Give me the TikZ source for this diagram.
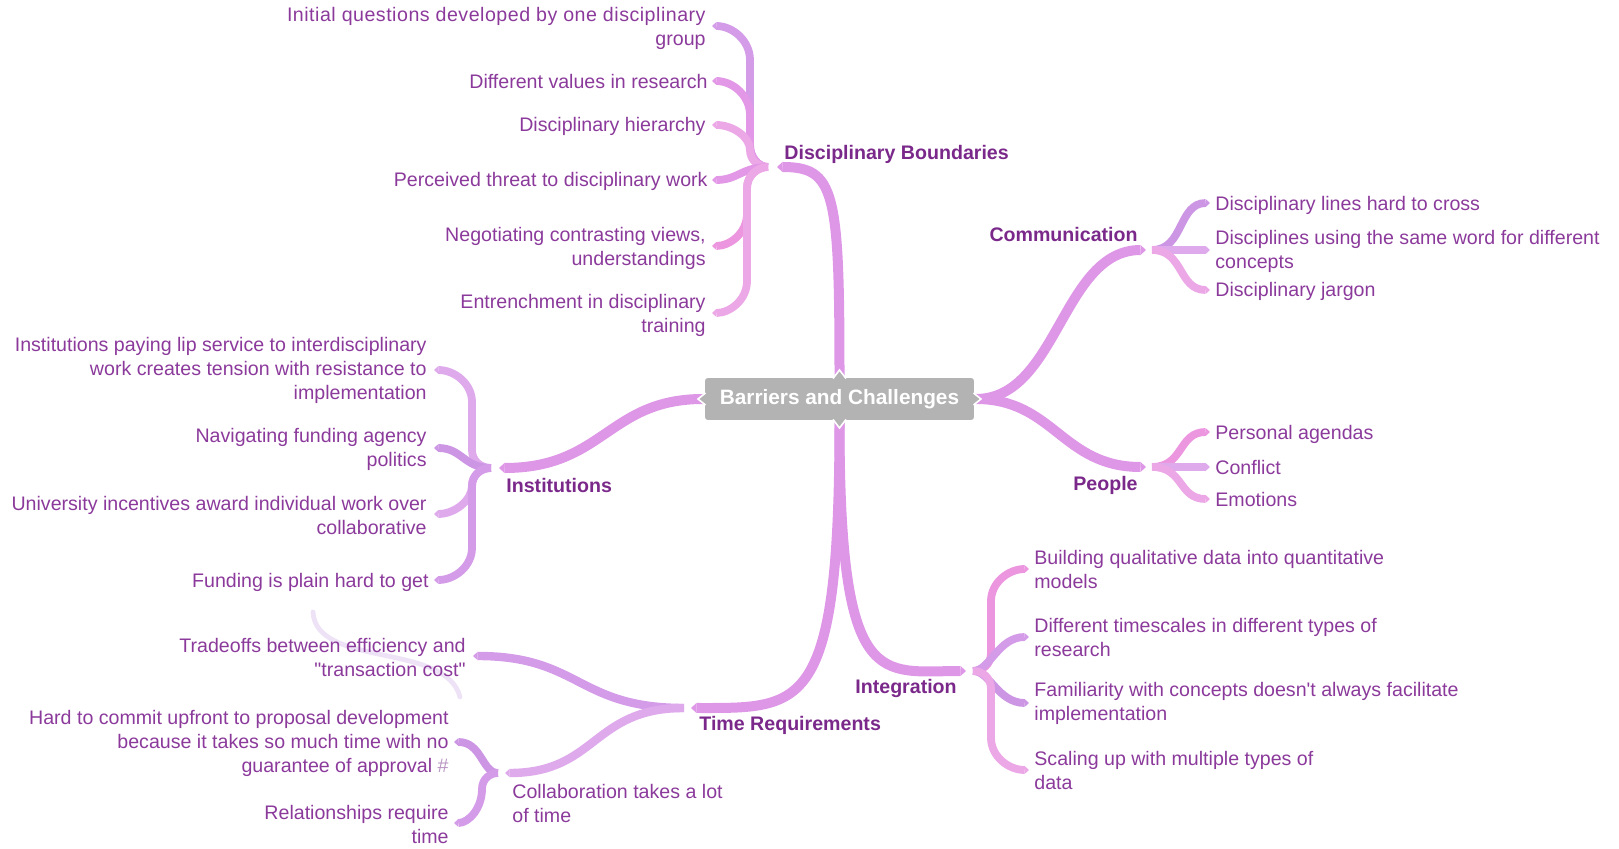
\documentclass[tikz,border=0pt]{standalone}
\usepackage{fontspec}
\setmainfont{Liberation Sans}
\usetikzlibrary{arrows.meta}

\definecolor{txt}{RGB}{139,58,155}
\definecolor{hashc}{RGB}{185,150,195}
\definecolor{head}{RGB}{122,40,138}
\definecolor{trunk}{RGB}{222,150,230}
\definecolor{lav}{RGB}{212,155,232}
\definecolor{dlav}{RGB}{205,150,228}
\definecolor{orc}{RGB}{226,152,230}
\definecolor{pnk}{RGB}{236,150,224}
\definecolor{lpk}{RGB}{236,168,230}
\definecolor{llav}{RGB}{222,170,236}
\definecolor{boxgray}{RGB}{179,179,179}
\definecolor{ghostc}{RGB}{237,226,246}

\begin{document}
\begin{tikzpicture}[x=0.5pt,y=-0.5pt,
  leaf/.style={text=txt, inner sep=0pt, font=\fontsize{9.8}{12}\selectfont},
  leafL/.style={leaf, anchor=east, align=right},
  leafR/.style={leaf, anchor=west, align=left},
  topic/.style={text=head, inner sep=0pt, font=\fontsize{9.8}{12}\selectfont\bfseries},
  pointy/.style={-{Triangle[length=0pt 0.55, width=0pt 1, line width=0pt]}},
  mainline/.style={line width=5pt, trunk, pointy},
  branchline/.style={line width=4.2pt, pointy},
  twig/.style={line width=3.9pt, pointy},
]
\useasboundingbox (0,0) rectangle (1619,849);

% ---------- central topic ----------
\node[fill=boxgray, draw=white, line width=0.8pt, rounded corners=2pt,
      minimum width=135.5pt, minimum height=22pt, inner sep=0pt]
      (bc) at (839.5,399) {};

% ---------- branch end points ----------
\coordinate (db)  at (777,167);  \coordinate (dbf)  at (768,167);
\coordinate (cm)  at (1146,250); \coordinate (cmf)  at (1152,250);
\coordinate (pe)  at (1146,467); \coordinate (pef)  at (1152,467);
\coordinate (ins) at (499,468);  \coordinate (insf) at (491,468);
\coordinate (tr)  at (691,708);  \coordinate (trf)  at (684,708);
\coordinate (ig)  at (966,671);  \coordinate (igf)  at (973,671);
\coordinate (co)  at (505,773);  \coordinate (cof)  at (498,773);

% leaf end points
\coordinate (d1) at (712,26);   \coordinate (d2) at (712,81);
\coordinate (d3) at (712,125);  \coordinate (d4) at (712,180);
\coordinate (d5) at (712,246);  \coordinate (d6) at (712,313);
\coordinate (c1) at (1210,203); \coordinate (c2) at (1210,250);
\coordinate (c3) at (1210,290);
\coordinate (p1) at (1210,432); \coordinate (p2) at (1210,467);
\coordinate (p3) at (1210,499);
\coordinate (i1) at (434,370);  \coordinate (i2) at (434,448);
\coordinate (i3) at (434,514);  \coordinate (i4) at (434,580);
\coordinate (g1) at (1029,569); \coordinate (g2) at (1029,637);
\coordinate (g3) at (1029,703); \coordinate (g4) at (1029,770);
\coordinate (t1) at (473,656);
\coordinate (h1) at (454,742);  \coordinate (h2) at (454,823);

% faint stroke left behind near the tradeoffs entry
\draw[ghostc, line width=2.4pt, line cap=round]
  (313,612) .. controls (316,668) and (446,642) .. (460,697);

% ---------- main branches ----------
\draw[mainline] (bc.north) .. controls +(0,-185) and +(58,0) .. (db);
\draw[mainline] (bc.east) .. controls +(82,0) and +(-84,0) .. (cm);
\draw[mainline] (bc.east) .. controls +(78,0) and +(-84,0) .. (pe);
\draw[mainline] (bc.west) .. controls +(-95,0) and +(105,0) .. (ins);
\draw[mainline] (bc.south) .. controls +(0,292) and +(112,0) .. (tr);
\draw[mainline] (bc.south) .. controls +(0,272) and +(-86,0) .. (ig);

% ---------- disciplinary boundaries ----------
\draw[twig, lav] (dbf) .. controls (758,167) and (750,157) .. (750,145)
                 -- (750,60) .. controls (750,41) and (733,26) .. (d1);
\draw[twig, orc] (dbf) .. controls (758,167) and (750,157) .. (750,145)
                 -- (750,115) .. controls (750,96) and (733,81) .. (d2);
\draw[twig, lpk] (dbf) .. controls (758,167) and (750,160) .. (750,150)
                 .. controls (750,137) and (733,125) .. (d3);
\draw[twig, orc] (dbf) .. controls (742,167) and (738,180) .. (d4);
\draw[twig, pnk] (dbf) .. controls (757,167) and (747,176) .. (747,188)
                 -- (747,214) .. controls (747,233) and (730,246) .. (d5);
\draw[twig, lpk] (dbf) .. controls (757,167) and (747,176) .. (747,188)
                 -- (747,281) .. controls (747,300) and (730,313) .. (d6);

% ---------- communication ----------
\draw[twig, dlav] (cmf) .. controls (1184,250) and (1178,203) .. (c1);
\draw[twig, llav] (cmf) -- (c2);
\draw[twig, lpk]  (cmf) .. controls (1184,250) and (1178,290) .. (c3);

% ---------- people ----------
\draw[twig, pnk]  (pef) .. controls (1184,467) and (1178,432) .. (p1);
\draw[twig, llav] (pef) -- (p2);
\draw[twig, lpk]  (pef) .. controls (1184,467) and (1178,499) .. (p3);

% ---------- institutions ----------
\draw[twig, llav] (insf) .. controls (481,468) and (472,461) .. (472,450)
                  -- (472,402) .. controls (472,384) and (455,370) .. (i1);
\draw[twig, dlav] (insf) .. controls (464,468) and (462,448) .. (i2);
\draw[twig, llav] (insf) .. controls (481,468) and (472,475) .. (472,486)
                  .. controls (472,500) and (455,514) .. (i3);
\draw[twig, lav]  (insf) .. controls (481,468) and (472,475) .. (472,486)
                  -- (472,548) .. controls (472,566) and (455,580) .. (i4);

% ---------- integration ----------
\draw[twig, pnk]  (igf) .. controls (983,671) and (991,664) .. (991,653)
                  -- (991,601) .. controls (991,583) and (1008,569) .. (g1);
\draw[twig, lav]  (igf) .. controls (990,671) and (998,637) .. (g2);
\draw[twig, dlav] (igf) .. controls (990,671) and (998,703) .. (g3);
\draw[twig, lpk]  (igf) .. controls (983,671) and (991,678) .. (991,689)
                  -- (991,738) .. controls (991,756) and (1008,770) .. (g4);

% ---------- time requirements ----------
\draw[branchline, lav]  (trf) .. controls +(-107,0) and +(107,0) .. (t1);
\draw[branchline, llav] (trf) .. controls +(-92,0) and +(92,0) .. (co);
\draw[twig, dlav] (cof) .. controls (482,773) and (482,742) .. (h1);
\draw[twig, lav]  (cof) .. controls (490,773) and (482,779) .. (482,789)
                  .. controls (482,808) and (469,823) .. (h2);

% ---------- notches of the central box ----------
\draw[white, line width=0.8pt, fill=boxgray, line join=miter]
  (833,378.5) -- (839.5,370) -- (846,378.5);
\draw[white, line width=0.8pt, fill=boxgray, line join=miter]
  (833,419.5) -- (839.5,428) -- (846,419.5);
\draw[white, line width=0.8pt, fill=boxgray, line join=miter]
  (973.5,393) -- (981,399) -- (973.5,405);
\draw[white, line width=0.8pt, fill=boxgray, line join=miter]
  (705.5,393) -- (698,399) -- (705.5,405);
\node[text=white, inner sep=0pt, font=\fontsize{10.4}{12}\selectfont\bfseries]
  (bctext) at (bc.center) {Barriers and Challenges};

% ---------- topic labels ----------
\node[topic, anchor=west] (ldb)  at (784,154)  {Disciplinary Boundaries};
\node[topic, anchor=east] (lcm)  at (1138,235) {Communication};
\node[topic, anchor=east] (lpe)  at (1138,485) {People};
\node[topic, anchor=west] (lins) at (506,485)  {Institutions};
\node[topic, anchor=west] (ltr)  at (699,725)  {Time Requirements};
\node[topic, anchor=west] (lig)  at (855,688)  {Integration};

% ---------- leaves ----------
\node[leafL] (nd1) at (706,28)  {\addfontfeature{LetterSpace=2.6}Initial questions developed by one disciplinary\\group};
\node[leafL] (nd2) at (708,82)  {Different values in research};
\node[leafL] (nd3) at (706,126) {Disciplinary hierarchy};
\node[leafL] (nd4) at (708,181) {Perceived threat to disciplinary work};
\node[leafL] (nd5) at (706,248) {Negotiating contrasting views,\\understandings};
\node[leafL] (nd6) at (706,315) {Entrenchment in disciplinary\\training};

\node[leafR] (nc1) at (1215,205) {Disciplinary lines hard to cross};
\node[leafR] (nc2) at (1215,251) {Disciplines using the same word for different\\concepts};
\node[leafR] (nc3) at (1215,291) {Disciplinary jargon};

\node[leafR] (np1) at (1215,434) {Personal agendas};
\node[leafR] (np2) at (1215,467) {Conflict};
\node[leafR] (np3) at (1215,499) {Emotions};

\node[leafL] (ni1) at (427,370) {Institutions paying lip service to interdisciplinary\\work creates tension with resistance to\\implementation};
\node[leafL] (ni2) at (427,449) {Navigating funding agency\\politics};
\node[leafL] (ni3) at (427,515) {University incentives award individual work over\\collaborative};
\node[leafL] (ni4) at (429,582) {Funding is plain hard to get};

\node[leafR] (ng1) at (1034,569) {Building qualitative data into quantitative\\models};
\node[leafR] (ng2) at (1034,637) {Different timescales in different types of\\research};
\node[leafR] (ng3) at (1034,703) {Familiarity with concepts doesn\textquotesingle t always facilitate\\implementation};
\node[leafR] (ng4) at (1034,770) {Scaling up with multiple types of\\data};

\node[leafL] (nt1) at (466,657) {Tradeoffs between efficiency and\\\textquotedbl transaction cost\textquotedbl};
\node[leafR] (nco) at (512,803) {Collaboration takes a lot\\of time};
\node[leafL] (nh1) at (449,743) {Hard to commit upfront to proposal development\\because it takes so much time with no\\guarantee of approval {\color{hashc}\#}};
\node[leafL] (nh2) at (449,824) {Relationships require\\time};
\end{tikzpicture}
\end{document}
